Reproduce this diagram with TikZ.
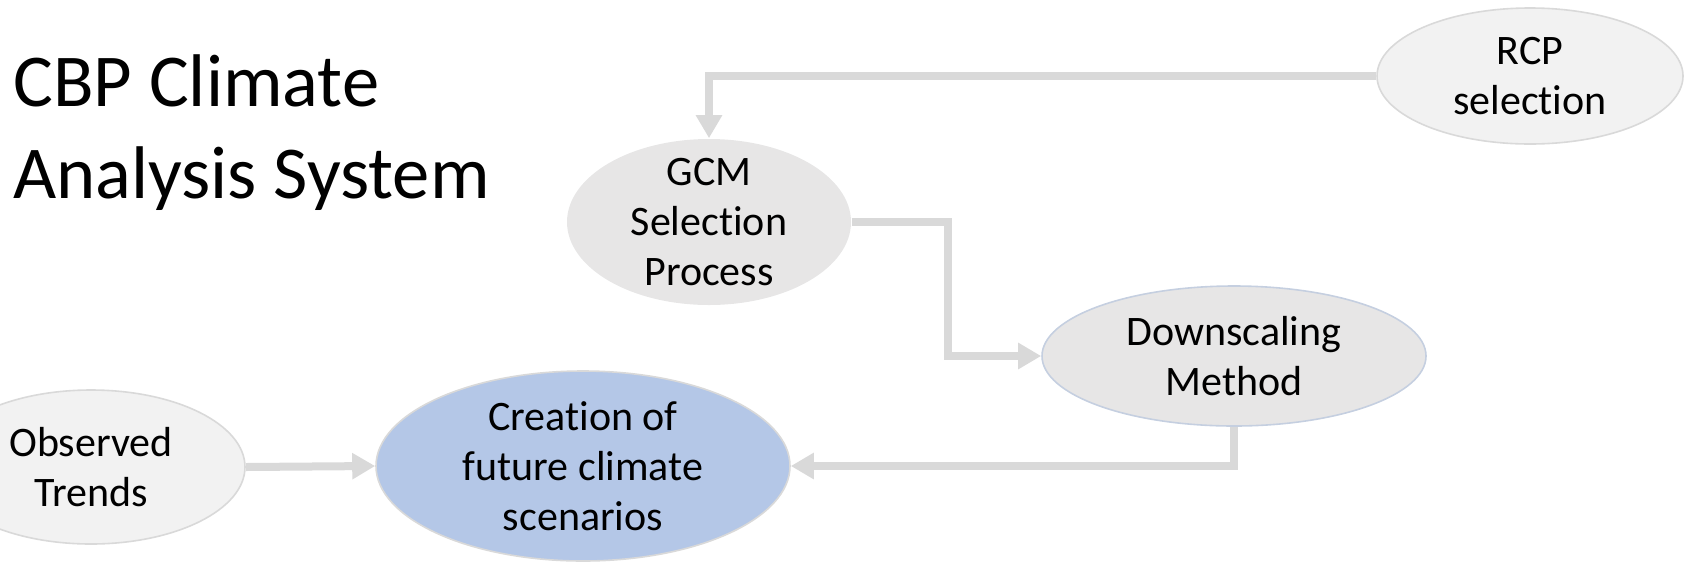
\documentclass[tikz,border=0pt]{standalone}
\usepackage{fontspec}
\setmainfont{Carlito}[Ligatures=NoCommon]
\usepackage{tikz}
\usetikzlibrary{arrows.meta,shapes.geometric}
\definecolor{LinkGray}{HTML}{D9D9D9}
\definecolor{PaleFill}{HTML}{F2F2F2}
\definecolor{MidFill}{HTML}{E7E6E6}
\definecolor{SkyFill}{HTML}{B4C7E7}
\definecolor{SkyEdge}{HTML}{C5CFE0}

\begin{document}
\begin{tikzpicture}[x=0.5pt, y=-0.5pt,
    stage/.style={ellipse, align=center, inner xsep=0pt, inner ysep=-20pt,
      line width=0.8pt, font=\fontsize{21}{25}\selectfont},
    link/.style={line width=4pt, LinkGray, -{Triangle[width=12.5pt, length=11.5pt]}}]
    \useasboundingbox (0,0) rectangle (1684,563);
    % title
    \node[anchor=base west, align=left, inner sep=0pt, font=\fontsize{37.3}{46}\selectfont] (title) at (13,198) {CBP Climate\\Analysis System};
    % stages
    \node[stage, draw=LinkGray, fill=PaleFill, minimum width=154pt, minimum height=77pt] (obs) at (91,467) {Observed\\Trends};
    \node[stage, draw=LinkGray, fill=PaleFill, minimum width=153pt, minimum height=68pt] (rcp) at (1530,76) {RCP\\selection};
    \node[stage, fill=MidFill, minimum width=142pt, minimum height=83pt] (gcm) at (709,222) {GCM\\Selection\\Process};
    \node[stage, draw=SkyEdge, fill=MidFill, minimum width=192pt, minimum height=70pt] (down) at (1234,356) {Downscaling\\Method};
    \node[stage, draw=LinkGray, fill=SkyFill, minimum width=207pt, minimum height=95pt] (scen) at (583,466) {Creation of\\future climate\\scenarios};
    % links
    \draw[link] (rcp.west) -| (gcm.north);
    \draw[link] (gcm.east) -- ++(96,0) |- (down.west);
    \draw[link] (down.south) |- (scen.east);
    \draw[link] (obs.east) -- (scen.west);
\end{tikzpicture}
\end{document}
